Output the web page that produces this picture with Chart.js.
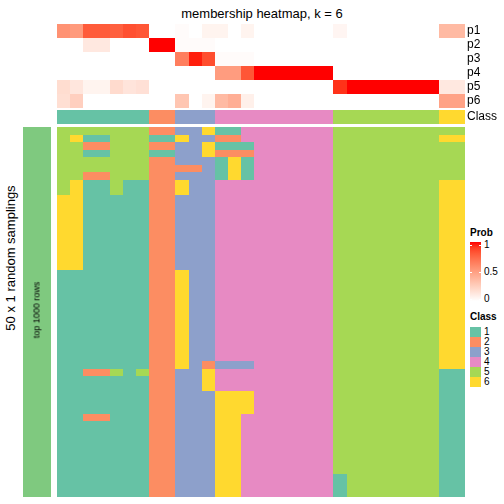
<!DOCTYPE html>
<html><head><meta charset="utf-8">
<script src="https://cdn.jsdelivr.net/npm/chart.js@4/dist/chart.umd.min.js"></script>
<style>
html,body{margin:0;padding:0;background:#fff;}
body{width:504px;height:504px;position:relative;overflow:hidden;font-family:"Liberation Sans",Arial,Helvetica,sans-serif;color:#000;}
canvas{position:absolute;}
.t{position:absolute;white-space:nowrap;line-height:1;}
</style></head><body>
<canvas id="probChart" width="447" height="84" style="left:57px;top:24px"></canvas>
<canvas id="classChart" width="447" height="14" style="left:57px;top:110px"></canvas>
<canvas id="annoChart" width="28" height="370" style="left:23px;top:127px"></canvas>
<canvas id="mainChart" width="408" height="370" style="left:57px;top:127px"></canvas>
<div id="texts"></div>
<script>
// ---------------- data ----------------
const title = "membership heatmap, k = 6";
const rowTitle = "50 x 1 random samplings";
const annoLabel = "top 1000 rows";
const classes = [1, 2, 3, 4, 5, 6];
const classColors = {1: "#66C2A5", 2: "#FC8D62", 3: "#8DA0CB", 4: "#E78AC3", 5: "#A6D854", 6: "#FFD92F"};
const annoColor = "#7FC97F";
const probLabels = ["p1", "p2", "p3", "p4", "p5", "p6"];
const probTicks = ["1", "0.5", "0"];
// consensus class of each of the 31 columns
const columnClass = [1,1,1,1,1,1,1, 2,2, 3,3,3, 4,4,4,4,4,4,4,4,4, 5,5,5,5,5,5,5,5, 6,6];
// membership probabilities per column
const p1 = [0.56,0.52,0.80,0.80,0.78,0.84,0.82, 0,0, 0.02,0,0.06, 0.06,0,0.06,0,0,0,0,0,0, 0.05,0,0,0,0,0,0,0, 0.36,0.36];
const p2 = [0,0,0.12,0.12,0,0,0, 1,1, 0.02,0.02,0.02, 0,0,0,0,0,0,0,0,0, 0,0,0,0,0,0,0,0, 0,0];
const p3 = [0,0,0,0,0,0,0, 0,0, 0.65,0.97,0.85, 0.02,0.02,0.02,0,0,0,0,0,0, 0,0,0,0,0,0,0,0, 0,0];
const p4 = [0,0,0,0,0,0,0, 0,0, 0,0,0, 0.51,0.51,0.82,1,1,1,1,1,1, 0,0,0,0,0,0,0,0, 0,0];
const p5 = [0.18,0.13,0.06,0.06,0.19,0.14,0.16, 0,0, 0,0,0, 0,0,0,0,0,0,0,0,0, 0.93,1,1,1,1,1,1,1, 0.12,0.12];
const p6 = [0.17,0.25,0,0,0,0,0, 0,0, 0.30,0,0.06, 0.36,0.42,0.08,0,0,0,0,0,0, 0,0,0,0,0,0,0,0, 0.48,0.48];
// class assigned in each of 50 random samplings (rows) for each column
const samplingRows = [
"5555555 22 336 114444444 55555555 55",
"5611555 11 633 224444444 55555555 66",
"5522555 22 336 111444444 55555555 55",
"5511555 11 336 222444444 55555555 55",
"5555555 22 333 161444444 55555555 55",
"5555555 22 223 161444444 55555555 55",
"5522555 22 333 161444444 55555555 55",
"5611511 22 633 444444444 55555555 66",
"5611511 22 633 444444444 55555555 66",
"6611111 22 333 444444444 55555555 66",
"6611111 22 333 444444444 55555555 66",
"6611111 22 333 444444444 55555555 66",
"6611111 22 333 444444444 55555555 66",
"6611111 22 333 444444444 55555555 66",
"6611111 22 333 444444444 55555555 66",
"6611111 22 333 444444444 55555555 66",
"6611111 22 333 444444444 55555555 66",
"6611111 22 333 444444444 55555555 66",
"6611111 22 333 444444444 55555555 66",
"1111111 22 633 444444444 55555555 66",
"1111111 22 633 444444444 55555555 66",
"1111111 22 633 444444444 55555555 66",
"1111111 22 633 444444444 55555555 66",
"1111111 22 633 444444444 55555555 66",
"1111111 22 633 444444444 55555555 66",
"1111111 22 633 444444444 55555555 66",
"1111111 22 633 444444444 55555555 66",
"1111111 22 633 444444444 55555555 66",
"1111111 22 633 444444444 55555555 66",
"1111111 22 633 444444444 55555555 66",
"1111111 22 633 444444444 55555555 66",
"1111111 22 632 333444444 55555555 66",
"1122515 22 336 444444444 55555555 11",
"1111111 22 336 444444444 55555555 11",
"1111111 22 336 444444444 55555555 11",
"1111111 22 333 666444444 55555555 11",
"1111111 22 333 666444444 55555555 11",
"1111111 22 333 666444444 55555555 11",
"1122111 22 333 664444444 55555555 11",
"1111111 22 333 664444444 55555555 11",
"1111111 22 333 664444444 55555555 11",
"1111111 22 333 664444444 55555555 11",
"1111111 22 333 664444444 55555555 11",
"1111111 22 333 664444444 55555555 11",
"1111111 22 333 664444444 55555555 11",
"1111111 22 333 664444444 55555555 11",
"1111111 22 333 664444444 15555555 11",
"1111111 22 333 664444444 15555555 11",
"1111111 22 333 664444444 15555555 11"
];

// ---------------- colour helpers (white -> red in LAB) ----------------
function toLin(c){c/=255;return c<=0.04045?c/12.92:Math.pow((c+0.055)/1.055,2.4);}
function fromLin(c){c=c<=0.0031308?12.92*c:1.055*Math.pow(c,1/2.4)-0.055;return Math.max(0,Math.min(255,Math.round(c*255)));}
function rgb2lab(r,g,b){
  r=toLin(r);g=toLin(g);b=toLin(b);
  let X=(0.4124*r+0.3576*g+0.1805*b)/0.95047,Y=(0.2126*r+0.7152*g+0.0722*b),Z=(0.0193*r+0.1192*g+0.9505*b)/1.08883;
  const f=t=>t>0.008856?Math.cbrt(t):7.787*t+16/116;
  const fx=f(X),fy=f(Y),fz=f(Z);
  return [116*fy-16,500*(fx-fy),200*(fy-fz)];
}
function lab2rgb(L,a,bb){
  const fy=(L+16)/116,fx=fy+a/500,fz=fy-bb/200;
  const g=t=>t*t*t>0.008856?t*t*t:(t-16/116)/7.787;
  const X=g(fx)*0.95047,Y=g(fy),Z=g(fz)*1.08883;
  const r=3.2406*X-1.5372*Y-0.4986*Z,gg=-0.9689*X+1.8758*Y+0.0415*Z,b=0.0557*X-0.2040*Y+1.0570*Z;
  return `rgb(${fromLin(r)},${fromLin(gg)},${fromLin(b)})`;
}
const labW=rgb2lab(255,255,255),labR=rgb2lab(255,0,0);
function probColor(v){v=Math.max(0,Math.min(1,v));return lab2rgb(labW[0]+(labR[0]-labW[0])*v,labW[1]+(labR[1]-labW[1])*v,labW[2]+(labR[2]-labW[2])*v);}

// ---------------- charts ----------------
const FONT="'Liberation Sans', Arial, Helvetica, sans-serif";
const nCols=columnClass.length;
const crisp={id:'crisp',beforeDatasetsDraw(chart){
  chart.getSortedVisibleDatasetMetas().forEach(m=>m.data.forEach(el=>{
    if(el.horizontal){
      const t=Math.round(el.y-el.height/2),b=Math.round(el.y+el.height/2);
      el.y=(t+b)/2;el.height=b-t;el.x=Math.round(el.x);el.base=Math.round(el.base);
    }else{
      const l=Math.round(el.x-el.width/2),r=Math.round(el.x+el.width/2);
      el.x=(l+r)/2;el.width=r-l;el.y=Math.round(el.y);el.base=Math.round(el.base);
    }
  }));
}};
function heatConfig(rowLabels,colorOf,showLabels){
  const datasets=[];
  for(let c=0;c<nCols;c++){
    datasets.push({data:rowLabels.map(()=>[c,c+1]),backgroundColor:rowLabels.map((_,r)=>colorOf(r,c))});
  }
  return {type:'bar',data:{labels:rowLabels,datasets},plugins:[crisp],
    options:{indexAxis:'y',responsive:false,animation:false,devicePixelRatio:1,layout:{padding:0},
      datasets:{bar:{grouped:false,barPercentage:1,categoryPercentage:1,borderWidth:0,inflateAmount:0}},
      plugins:{legend:{display:false},tooltip:{enabled:false},title:{display:false}},
      scales:{
        x:{type:'linear',min:0,max:nCols,display:false},
        y:{type:'category',position:'right',display:showLabels,
           grid:{display:false,drawTicks:false},border:{display:false},
           ticks:{color:'#000',font:{family:FONT,size:12},padding:2,autoSkip:false,maxRotation:0,minRotation:0},
           afterFit(s){s.width=showLabels?39:0;s.paddingTop=0;s.paddingBottom=0;}}
      }}};
}
const probRows=[p1,p2,p3,p4,p5,p6];
new Chart(document.getElementById('probChart'),heatConfig(probLabels,(r,c)=>probColor(probRows[r][c]),true));
new Chart(document.getElementById('classChart'),heatConfig(["Class"],(r,c)=>classColors[columnClass[c]],true));
const sampling=samplingRows.map(s=>s.replace(/ /g,'').split('').map(Number));
new Chart(document.getElementById('mainChart'),heatConfig(sampling.map((_,i)=>String(i+1)),(r,c)=>classColors[sampling[r][c]],false));
new Chart(document.getElementById('annoChart'),{type:'bar',data:{labels:[annoLabel],datasets:[{data:[[0,1]],backgroundColor:annoColor}]},plugins:[crisp],
  options:{responsive:false,animation:false,devicePixelRatio:1,layout:{padding:0},
    datasets:{bar:{barPercentage:1,categoryPercentage:1,borderWidth:0,inflateAmount:0}},
    plugins:{legend:{display:false},tooltip:{enabled:false}},
    scales:{x:{display:false},y:{min:0,max:1,display:false}}}});

// ---------------- text & legends (HTML) ----------------
const T=document.getElementById('texts');
function addText(txt,x,y,opts={}){
  const d=document.createElement('div');d.className='t';d.textContent=txt;
  d.style.left=x+'px';d.style.top=y+'px';
  d.style.fontSize=(opts.size||10)+'px';
  if(opts.bold)d.style.fontWeight='bold';
  let tr=opts.center?'translate(-50%,-50%)':'translateY(-50%)';
  if(opts.rot)tr+=' rotate(-90deg)';
  d.style.transform=tr;
  T.appendChild(d);return d;
}
addText(title,262,13,{size:13,center:true});
addText(rowTitle,10,258,{size:13,center:true,rot:true});
addText(annoLabel,37,310,{size:9,center:true,rot:true});
// Prob legend
addText("Prob",470,233,{size:10,bold:true});
const grad=document.createElement('div');
let stops=[];for(let i=0;i<=10;i++){stops.push(probColor(1-i/10)+' '+(i*10)+'%');}
grad.style.cssText=`position:absolute;left:470px;top:242px;width:11px;height:59px;background:linear-gradient(to bottom,${stops.join(',')});`;
T.appendChild(grad);
const tickY=[245,272,299];
probTicks.forEach((t,i)=>{
  addText(t,484,tickY[i],{size:10});
  ['470px','479px'].forEach(l=>{const m=document.createElement('div');m.style.cssText=`position:absolute;left:${l};top:${tickY[i]-0.5}px;width:2px;height:1px;background:#fff;`;T.appendChild(m);});
});
// Class legend
addText("Class",470,317,{size:10,bold:true});
classes.forEach((k,i)=>{
  const b=document.createElement('div');
  b.style.cssText=`position:absolute;left:470px;top:${327+10*i}px;width:11px;height:10px;background:${classColors[k]};`;
  T.appendChild(b);
  addText(String(k),484,332+10*i,{size:10});
});
</script>
</body></html>
